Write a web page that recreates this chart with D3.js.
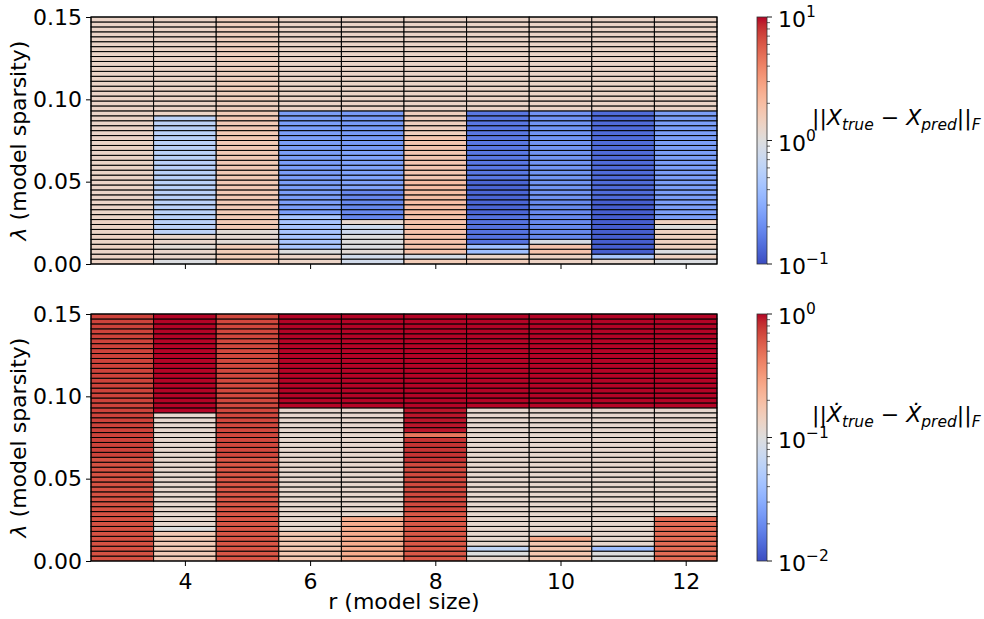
<!DOCTYPE html>
<html>
<head>
<meta charset="utf-8">
<script src="https://cdn.jsdelivr.net/npm/d3@7"></script>
<style>
  body { margin: 0; background: #fff; }
  text { font-family: "DejaVu Sans", sans-serif; }
</style>
</head>
<body>
<div id="chart"></div>
<script>
// model sizes (columns) and sparsity grid (rows, lower edge of each cell)
const rSizes = [3, 4, 5, 6, 7, 8, 9, 10, 11, 12];
const lambdaStep = 0.003;
const lambdas = d3.range(50).map(i => i * lambdaStep);
const yTicks = [0, 0.05, 0.10, 0.15];
const xTicks = [4, 6, 8, 10, 12];

// ||X_true - X_pred||_F, one array per r, from lambda = 0 upwards
const xErr_r3 = [1.35,1.35,1.3,1.35,1.3,1.35,1.3,1.3,1.35,1.3,
  1.3,1.3,1.3,1.3,1.3,1.3,1.3,1.3,1.3,1.3,
  1.3,1.3,1.3,1.3,1.3,1.3,1.3,1.3,1.3,1.3,
  1.3,1.3,1.3,1.3,1.3,1.3,1.3,1.3,1.3,1.3,
  1.3,1.3,1.3,1.3,1.3,1.3,1.3,1.3,1.3,1.3];
const xErr_r4 = [0.95,1.25,1.25,1.1,1.25,1.25,0.6,0.6,0.58,0.58,
  0.58,0.58,0.58,0.58,0.58,0.58,0.58,0.58,0.58,0.58,
  0.58,0.58,0.58,0.58,0.58,0.58,0.58,0.58,0.6,0.6,
  1.3,1.3,1.3,1.3,1.3,1.3,1.3,1.3,1.3,1.3,
  1.3,1.3,1.3,1.3,1.3,1.3,1.3,1.3,1.3,1.3];
const xErr_r5 = [1.55,1.55,1.55,1.55,1.1,1.15,1.1,1.6,1.6,1.6,
  1.6,1.6,1.6,1.6,1.6,1.6,1.6,1.6,1.6,1.6,
  1.6,1.6,1.6,1.6,1.6,1.6,1.6,1.6,1.6,1.6,
  1.55,1.45,1.45,1.45,1.45,1.45,1.45,1.45,1.45,1.45,
  1.45,1.45,1.45,1.45,1.45,1.45,1.45,1.45,1.45,1.45];
const xErr_r6 = [1.3,1.3,1.0,0.45,0.45,0.45,0.45,0.45,0.45,0.45,
  0.25,0.25,0.25,0.25,0.25,0.25,0.25,0.25,0.25,0.25,
  0.25,0.25,0.25,0.25,0.25,0.25,0.25,0.25,0.25,0.25,
  0.25,1.3,1.3,1.3,1.3,1.3,1.3,1.3,1.3,1.3,
  1.3,1.3,1.3,1.3,1.3,1.3,1.3,1.3,1.3,1.3];
const xErr_r7 = [0.8,0.8,1.1,0.95,1.0,1.0,0.75,0.75,1.2,0.19,
  0.19,0.19,0.19,0.19,0.19,0.27,0.27,0.27,0.27,0.27,
  0.27,0.27,0.27,0.24,0.24,0.24,0.24,0.24,0.24,0.24,
  0.24,1.3,1.3,1.3,1.3,1.3,1.3,1.3,1.3,1.3,
  1.3,1.3,1.3,1.3,1.3,1.3,1.3,1.3,1.3,1.3];
const xErr_r8 = [1.55,0.85,1.8,1.8,1.8,1.8,1.8,1.8,1.8,1.8,
  1.95,1.95,1.95,1.95,1.95,1.95,1.95,1.7,1.7,1.7,
  1.7,1.7,1.7,1.7,1.7,1.7,1.45,1.45,1.45,1.45,
  1.45,1.3,1.3,1.3,1.3,1.3,1.3,1.3,1.3,1.3,
  1.3,1.3,1.3,1.3,1.3,1.3,1.3,1.3,1.3,1.3];
const xErr_r9 = [1.5,1.3,0.4,0.4,0.15,0.15,0.15,0.15,0.15,0.15,
  0.13,0.13,0.13,0.13,0.13,0.13,0.13,0.16,0.16,0.16,
  0.16,0.16,0.16,0.16,0.16,0.16,0.16,0.16,0.16,0.16,
  0.16,1.3,1.3,1.3,1.3,1.3,1.3,1.3,1.3,1.3,
  1.3,1.3,1.3,1.3,1.3,1.3,1.3,1.3,1.3,1.3];
const xErr_r10 = [1.35,1.35,1.8,1.8,0.9,0.19,0.19,0.19,0.19,0.19,
  0.19,0.19,0.19,0.22,0.22,0.22,0.22,0.22,0.22,0.22,
  0.22,0.22,0.22,0.22,0.22,0.22,0.22,0.22,0.22,0.22,
  0.22,1.3,1.3,1.3,1.3,1.3,1.3,1.3,1.3,1.3,
  1.3,1.3,1.3,1.3,1.3,1.3,1.3,1.3,1.3,1.3];
const xErr_r11 = [1.2,0.45,0.12,0.12,0.12,0.12,0.12,0.12,0.12,0.12,
  0.12,0.12,0.12,0.14,0.14,0.14,0.14,0.14,0.14,0.14,
  0.14,0.14,0.14,0.14,0.14,0.14,0.14,0.14,0.14,0.14,
  0.14,1.3,1.3,1.3,1.3,1.3,1.3,1.3,1.3,1.3,
  1.3,1.3,1.3,1.3,1.3,1.3,1.3,1.3,1.3,1.3];
const xErr_r12 = [0.95,1.4,0.95,1.4,1.4,1.4,1.4,1.0,1.4,0.25,
  0.25,0.25,0.25,0.25,0.25,0.25,0.25,0.25,0.25,0.25,
  0.25,0.25,0.25,0.25,0.25,0.25,0.25,0.25,0.25,0.25,
  0.25,1.3,1.3,1.3,1.3,1.3,1.3,1.3,1.3,1.3,
  1.3,1.3,1.3,1.3,1.3,1.3,1.3,1.3,1.3,1.3];

// ||Xdot_true - Xdot_pred||_F
const xdErr_r3 = [0.64,0.64,0.64,0.64,0.64,0.64,0.64,0.64,0.64,0.64,
  0.64,0.64,0.64,0.64,0.64,0.64,0.64,0.64,0.64,0.64,
  0.64,0.72,0.72,0.72,0.72,0.72,0.72,0.72,0.72,0.72,
  0.72,0.72,0.72,0.72,0.72,0.72,0.72,0.72,0.72,0.72,
  0.72,0.72,0.72,0.72,0.72,0.72,0.72,0.72,0.72,0.72];
const xdErr_r4 = [0.16,0.16,0.16,0.16,0.16,0.16,0.1,0.12,0.12,0.12,
  0.12,0.12,0.12,0.12,0.12,0.12,0.12,0.12,0.12,0.12,
  0.12,0.12,0.12,0.12,0.12,0.12,0.12,0.12,0.12,0.12,
  1.0,1.0,1.0,1.0,1.0,1.0,1.0,1.0,1.0,1.0,
  1.0,1.0,1.0,1.0,1.0,1.0,1.0,1.0,1.0,1.0];
const xdErr_r5 = [0.61,0.61,0.61,0.61,0.61,0.61,0.61,0.61,0.61,0.61,
  0.61,0.61,0.61,0.61,0.61,0.61,0.61,0.61,0.61,0.61,
  0.61,0.69,0.69,0.69,0.69,0.69,0.69,0.69,0.69,0.69,
  0.69,0.69,0.69,0.69,0.69,0.69,0.69,0.69,0.69,0.69,
  0.69,0.69,0.69,0.69,0.69,0.69,0.69,0.69,0.69,0.69];
const xdErr_r6 = [0.17,0.17,0.17,0.17,0.17,0.17,0.12,0.12,0.12,0.12,
  0.12,0.12,0.12,0.12,0.12,0.12,0.12,0.12,0.12,0.12,
  0.12,0.12,0.12,0.12,0.12,0.12,0.12,0.12,0.12,0.12,
  0.12,1.0,1.0,1.0,1.0,1.0,1.0,1.0,1.0,1.0,
  1.0,1.0,1.0,1.0,1.0,1.0,1.0,1.0,1.0,1.0];
const xdErr_r7 = [0.25,0.25,0.25,0.25,0.25,0.25,0.25,0.25,0.25,0.12,
  0.12,0.12,0.12,0.12,0.12,0.12,0.12,0.12,0.12,0.12,
  0.12,0.12,0.12,0.12,0.12,0.12,0.12,0.12,0.12,0.12,
  0.12,1.0,1.0,1.0,1.0,1.0,1.0,1.0,1.0,1.0,
  1.0,1.0,1.0,1.0,1.0,1.0,1.0,1.0,1.0,1.0];
const xdErr_r8 = [0.6,0.6,0.6,0.6,0.6,0.6,0.6,0.6,0.6,0.6,
  0.68,0.68,0.68,0.68,0.68,0.68,0.68,0.68,0.68,0.68,
  0.8,0.8,0.8,0.8,0.8,0.45,0.93,0.93,0.93,0.93,
  0.93,1.0,1.0,1.0,1.0,1.0,1.0,1.0,1.0,1.0,
  1.0,1.0,1.0,1.0,1.0,1.0,1.0,1.0,1.0,1.0];
const xdErr_r9 = [0.12,0.1,0.065,0.12,0.12,0.12,0.12,0.12,0.12,0.12,
  0.12,0.12,0.12,0.12,0.12,0.12,0.12,0.12,0.12,0.12,
  0.12,0.12,0.12,0.12,0.12,0.12,0.12,0.12,0.12,0.12,
  0.12,1.0,1.0,1.0,1.0,1.0,1.0,1.0,1.0,1.0,
  1.0,1.0,1.0,1.0,1.0,1.0,1.0,1.0,1.0,1.0];
const xdErr_r10 = [0.17,0.17,0.17,0.17,0.26,0.12,0.12,0.12,0.12,0.12,
  0.12,0.12,0.12,0.12,0.12,0.12,0.12,0.12,0.12,0.12,
  0.12,0.12,0.12,0.12,0.12,0.12,0.12,0.12,0.12,0.12,
  0.12,1.0,1.0,1.0,1.0,1.0,1.0,1.0,1.0,1.0,
  1.0,1.0,1.0,1.0,1.0,1.0,1.0,1.0,1.0,1.0];
const xdErr_r11 = [0.1,0.1,0.04,0.12,0.12,0.12,0.12,0.12,0.12,0.12,
  0.12,0.12,0.12,0.12,0.12,0.12,0.12,0.12,0.12,0.12,
  0.12,0.12,0.12,0.12,0.12,0.12,0.12,0.12,0.12,0.12,
  0.12,1.0,1.0,1.0,1.0,1.0,1.0,1.0,1.0,1.0,
  1.0,1.0,1.0,1.0,1.0,1.0,1.0,1.0,1.0,1.0];
const xdErr_r12 = [0.5,0.5,0.5,0.5,0.5,0.5,0.5,0.5,0.5,0.12,
  0.12,0.12,0.12,0.12,0.12,0.12,0.12,0.12,0.12,0.12,
  0.12,0.12,0.12,0.12,0.12,0.12,0.12,0.12,0.12,0.12,
  0.12,1.0,1.0,1.0,1.0,1.0,1.0,1.0,1.0,1.0,
  1.0,1.0,1.0,1.0,1.0,1.0,1.0,1.0,1.0,1.0];

const xErrCols = [xErr_r3, xErr_r4, xErr_r5, xErr_r6, xErr_r7, xErr_r8, xErr_r9, xErr_r10, xErr_r11, xErr_r12];
const xdErrCols = [xdErr_r3, xdErr_r4, xdErr_r5, xdErr_r6, xdErr_r7, xdErr_r8, xdErr_r9, xdErr_r10, xdErr_r11, xdErr_r12];

// coolwarm colormap samples
const coolwarm = ["#3b4cc0","#445acc","#4d68d7","#5775e1","#6282ea","#6c8ef1","#779af7","#82a5fb",
  "#8db0fe","#98b9ff","#a3c2ff","#aec9fd","#b8d0f9","#c2d5f4","#ccd9ee","#d5dbe6","#dddddd",
  "#e5d8d1","#ecd3c5","#f1ccb9","#f5c4ad","#f7bba0","#f7b194","#f7a687","#f49a7b","#f18d6f",
  "#ec7f63","#e57058","#de604d","#d55042","#cb3e38","#c0282f","#b40426"];
const cmap = d3.scaleLinear()
  .domain(d3.range(coolwarm.length).map(i => i / (coolwarm.length - 1)))
  .range(coolwarm)
  .clamp(true);

const width = 984, height = 619;
const svg = d3.select("#chart").append("svg")
  .attr("width", width)
  .attr("height", height);

const x = d3.scaleLinear().domain([2.5, 12.5]).range([91, 717]);
const panelH = 247;

const panels = [
  {top: 17, cols: xErrCols, vmin: 0.1, vmax: 10, dot: false, showX: false, grad: "cw1"},
  {top: 314, cols: xdErrCols, vmin: 0.01, vmax: 1, dot: true, showX: true, grad: "cw2"}
];

panels.forEach(p => {
  const y = d3.scaleLinear().domain([0, 0.15]).range([p.top + panelH, p.top]);
  const norm = d3.scaleLog().domain([p.vmin, p.vmax]).range([0, 1]).clamp(true);

  // cells
  const cells = [];
  rSizes.forEach((r, ci) => {
    lambdas.forEach((l, ri) => {
      cells.push({r: r, l: l, v: p.cols[ci][ri]});
    });
  });

  svg.append("g")
    .selectAll("rect")
    .data(cells)
    .enter()
    .append("rect")
      .attr("x", d => x(d.r - 0.5))
      .attr("width", d => x(d.r + 0.5) - x(d.r - 0.5))
      .attr("y", d => y(d.l + lambdaStep))
      .attr("height", d => y(d.l) - y(d.l + lambdaStep))
      .attr("fill", d => cmap(norm(d.v)))
      .attr("stroke", "#000")
      .attr("stroke-width", 1);

  // frame
  svg.append("rect")
    .attr("x", 91).attr("y", p.top)
    .attr("width", 626).attr("height", panelH)
    .attr("fill", "none").attr("stroke", "#000").attr("stroke-width", 1);

  // y axis
  const ya = svg.append("g")
    .attr("transform", "translate(91,0)")
    .call(d3.axisLeft(y).tickValues(yTicks).tickFormat(d3.format(".2f")).tickSize(5).tickPadding(4));
  ya.select(".domain").remove();
  ya.selectAll("text").attr("font-size", 22).attr("font-family", "DejaVu Sans").attr("fill", "#000");

  // x axis
  const xa = svg.append("g")
    .attr("transform", "translate(0," + (p.top + panelH) + ")")
    .call(d3.axisBottom(x).tickValues(xTicks).tickSize(5).tickPadding(7)
      .tickFormat(p.showX ? d3.format("d") : ""));
  xa.select(".domain").remove();
  xa.selectAll("text").attr("font-size", 22).attr("font-family", "DejaVu Sans").attr("fill", "#000");

  // y label
  const yl = svg.append("text")
    .attr("transform", "translate(26," + (p.top + panelH / 2) + ") rotate(-90)")
    .attr("text-anchor", "middle")
    .attr("font-size", 22);
  yl.append("tspan").attr("font-style", "italic").text("λ");
  yl.append("tspan").text(" (model sparsity)");

  // colorbar
  const grad = svg.append("defs").append("linearGradient")
    .attr("id", p.grad)
    .attr("x1", 0).attr("y1", 1).attr("x2", 0).attr("y2", 0);
  coolwarm.forEach((c, i) => {
    grad.append("stop").attr("offset", i / (coolwarm.length - 1)).attr("stop-color", c);
  });
  const cbX = 757, cbW = 10;
  svg.append("rect")
    .attr("x", cbX).attr("y", p.top)
    .attr("width", cbW).attr("height", panelH)
    .attr("fill", "url(#" + p.grad + ")")
    .attr("stroke", "#333").attr("stroke-width", 0.8);

  const cy = d3.scaleLog().domain([p.vmin, p.vmax]).range([p.top + panelH, p.top]);
  const majors = [p.vmin, p.vmin * 10, p.vmax];
  const minors = cy.ticks().filter(t => !majors.some(m => Math.abs(m - t) / m < 1e-6));
  svg.append("g").selectAll("line")
    .data(minors).enter().append("line")
      .attr("x1", cbX + cbW).attr("x2", cbX + cbW + 3)
      .attr("y1", d => cy(d)).attr("y2", d => cy(d))
      .attr("stroke", "#000").attr("stroke-width", 0.6);
  svg.append("g").selectAll("line")
    .data(majors).enter().append("line")
      .attr("x1", cbX + cbW).attr("x2", cbX + cbW + 5)
      .attr("y1", d => cy(d)).attr("y2", d => cy(d))
      .attr("stroke", "#000").attr("stroke-width", 0.9);

  majors.forEach(m => {
    const e = Math.round(Math.log10(m));
    const t = svg.append("text")
      .attr("x", 778).attr("y", cy(m) + 10)
      .attr("font-size", 22);
    t.append("tspan").text("10");
    t.append("tspan").attr("dy", -10).attr("font-size", 15.5)
      .text(e < 0 ? "\u2212" + Math.abs(e) : String(e));
  });

  // colorbar label (mathtext style)
  const X = p.dot ? "\u1E8A" : "X";
  const lab = svg.append("text")
    .attr("x", 812).attr("y", p.top + panelH / 2 - 16)
    .attr("font-size", 22);
  lab.append("tspan").text("||");
  lab.append("tspan").attr("font-style", "italic").text(X);
  lab.append("tspan").attr("font-style", "italic").attr("font-size", 15.5).attr("dy", 5).text("true");
  lab.append("tspan").attr("dy", -5).text(" \u2212 ");
  lab.append("tspan").attr("font-style", "italic").text(X);
  lab.append("tspan").attr("font-style", "italic").attr("font-size", 15.5).attr("dy", 5).text("pred");
  lab.append("tspan").attr("dy", -5).text("||");
  lab.append("tspan").attr("font-style", "italic").attr("font-size", 15.5).attr("dy", 5).text("F");
});

// x label
svg.append("text")
  .attr("x", 404).attr("y", 609)
  .attr("text-anchor", "middle")
  .attr("font-size", 22)
  .text("r (model size)");
</script>
</body>
</html>
